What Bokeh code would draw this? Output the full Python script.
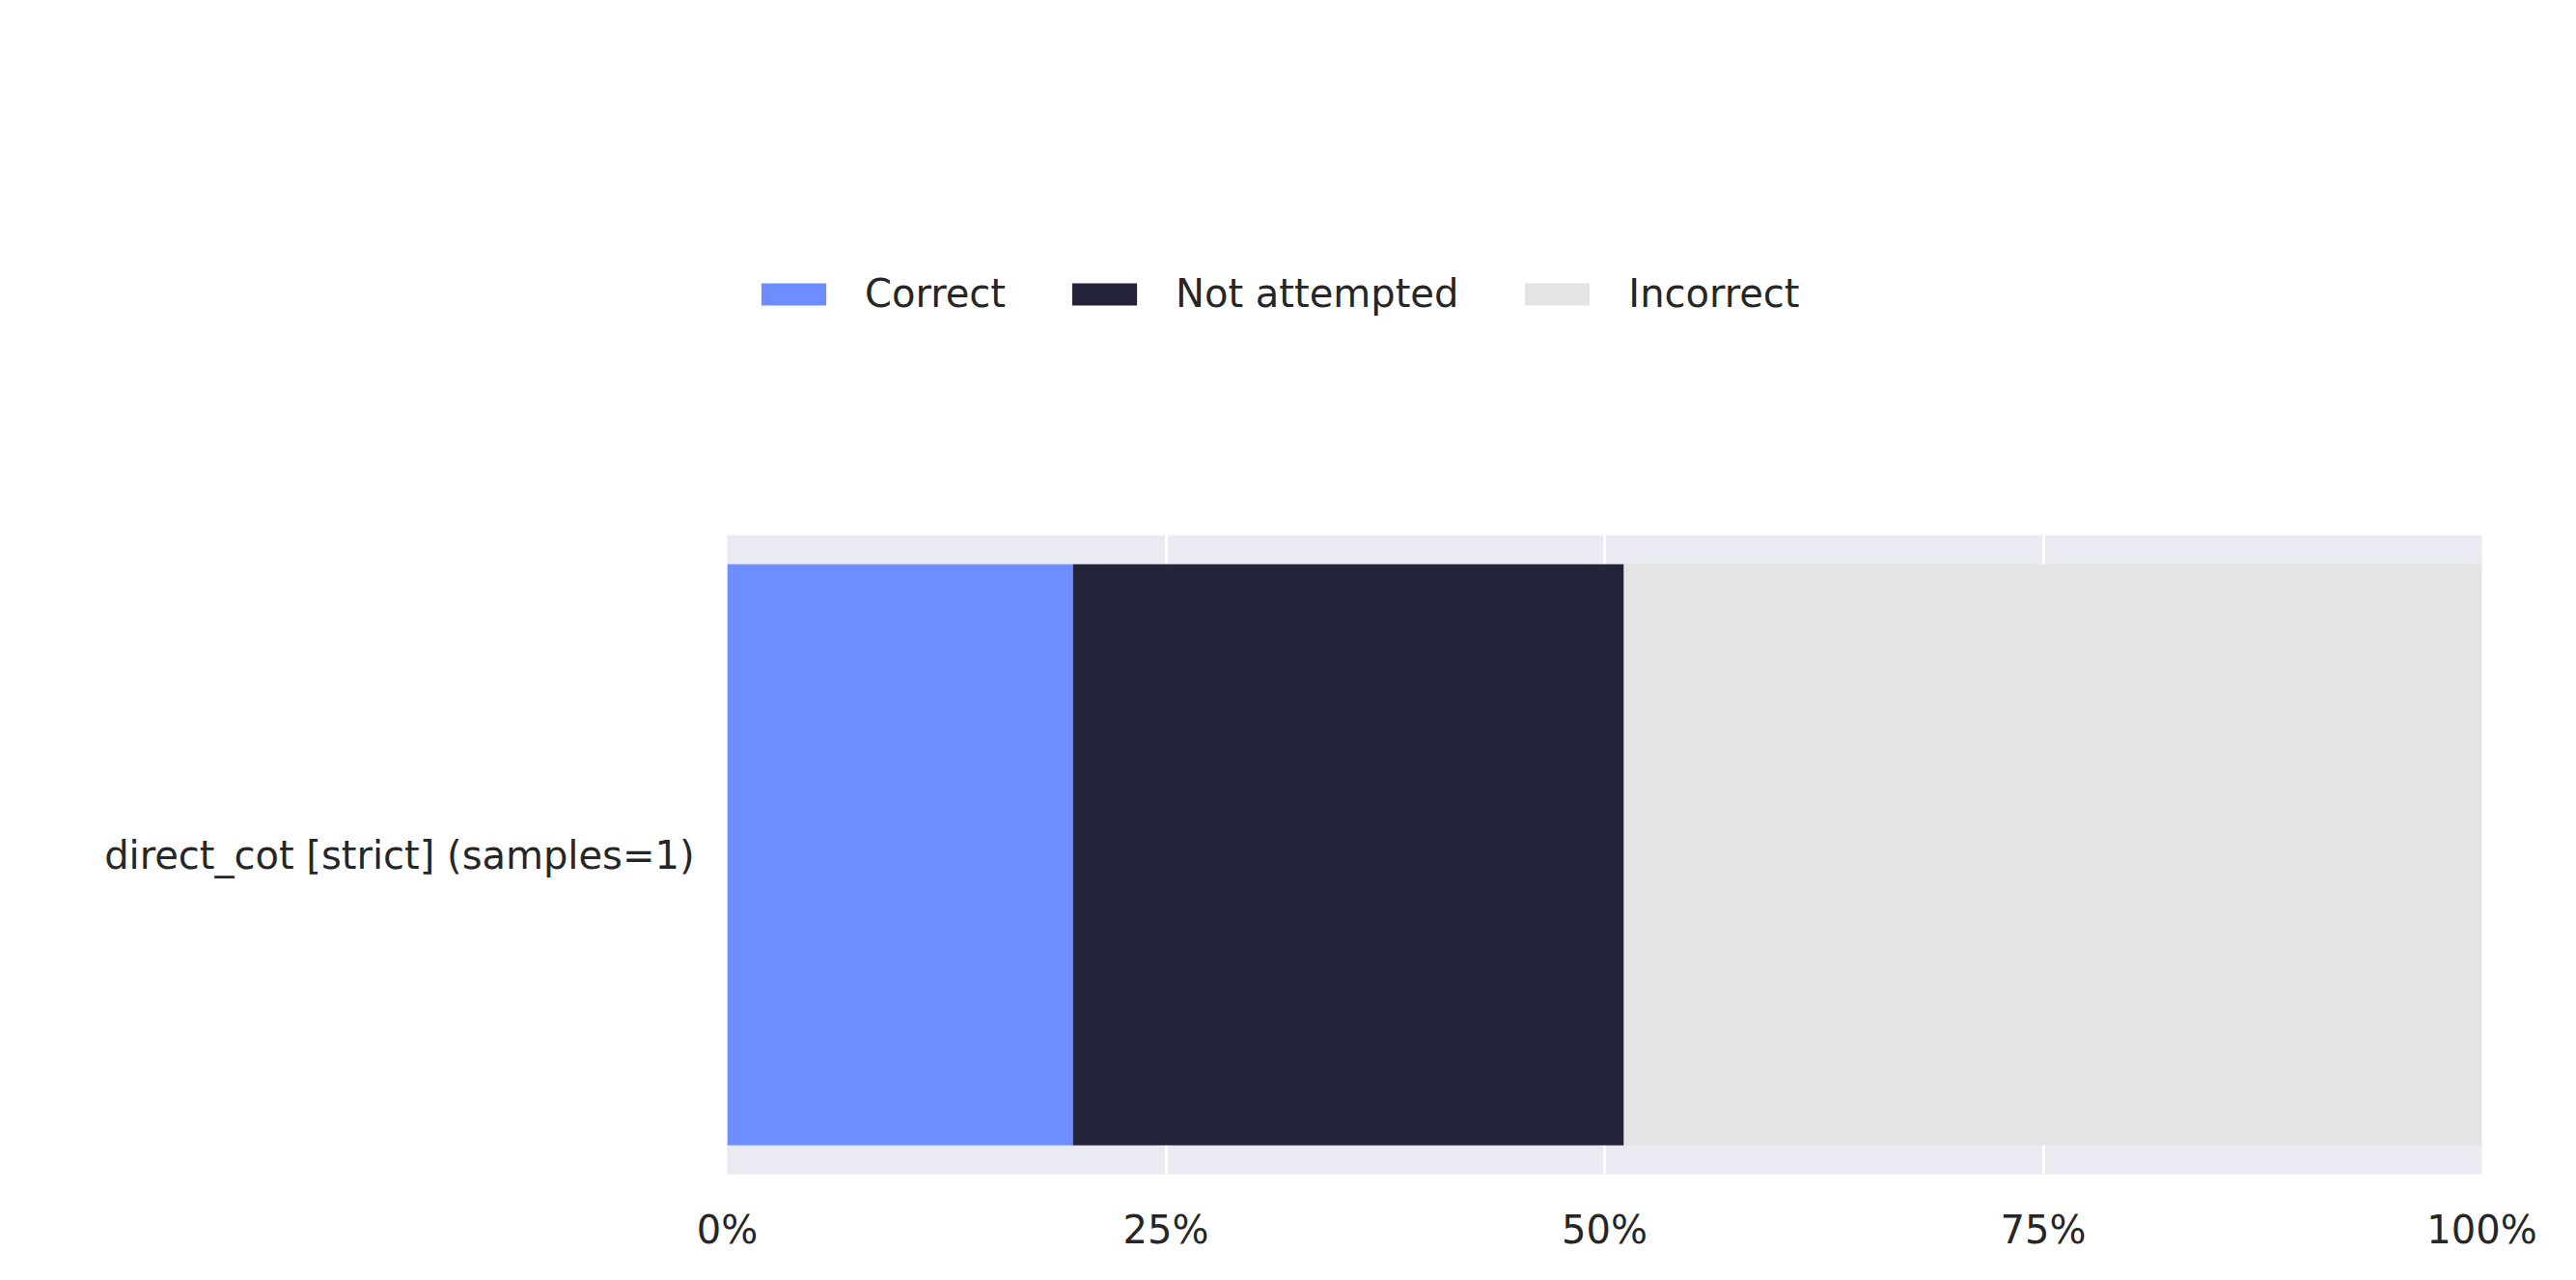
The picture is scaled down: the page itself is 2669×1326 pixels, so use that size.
from bokeh.plotting import figure
from bokeh.models import ColumnDataSource, Legend, LegendItem, NumeralTickFormatter, FixedTicker, Range1d
from bokeh.embed import file_html
from bokeh.resources import INLINE

labels = ["direct_cot [strict] (samples=1)"]
categories = ["Correct", "Not attempted", "Incorrect"]
correct = [0.197]
not_attempted = [0.314]
incorrect = [0.489]
colors = ["#6E8EFF", "#23243A", "#E4E4E4"]

src = ColumnDataSource(data={"y": labels, "Correct": correct,
                             "Not attempted": not_attempted, "Incorrect": incorrect})

p = figure(width=2650, height=1310, y_range=labels, x_range=Range1d(0, 1),
           output_backend="svg", toolbar_location=None,
           min_border_left=753, min_border_right=79, min_border_bottom=94, min_border_top=20)
p.y_range.range_padding = 0.1

rs = p.hbar_stack(categories, y="y", height=1.0, color=colors, line_width=0, source=src)

p.background_fill_color = "#EAEAF2"
p.outline_line_color = None
p.xgrid.grid_line_color = "white"
p.xgrid.grid_line_width = 3
p.ygrid.grid_line_color = None
p.xaxis.ticker = FixedTicker(ticks=[0, 0.25, 0.5, 0.75, 1])
p.xaxis.formatter = NumeralTickFormatter(format="0%")
for ax in (p.xaxis, p.yaxis):
    ax.axis_line_color = None
    ax.major_tick_line_color = None
    ax.minor_tick_line_color = None
    ax.major_label_text_font = "DejaVu Sans"
    ax.major_label_text_font_size = "40px"
    ax.major_label_text_color = "#262626"
p.xaxis.major_label_standoff = 28
p.yaxis.major_label_standoff = 28

legend = Legend(items=[LegendItem(label=c, renderers=[r]) for c, r in zip(categories, rs)],
                orientation="horizontal", location="top_left",
                glyph_width=84, glyph_height=29, label_text_font="DejaVu Sans",
                label_text_font_size="40px", label_text_color="#262626",
                border_line_color=None, background_fill_alpha=0,
                spacing=60, label_standoff=32, padding=10, margin=27)
p.add_layout(legend, "above")

open("out.html", "w").write(file_html(p, INLINE))
